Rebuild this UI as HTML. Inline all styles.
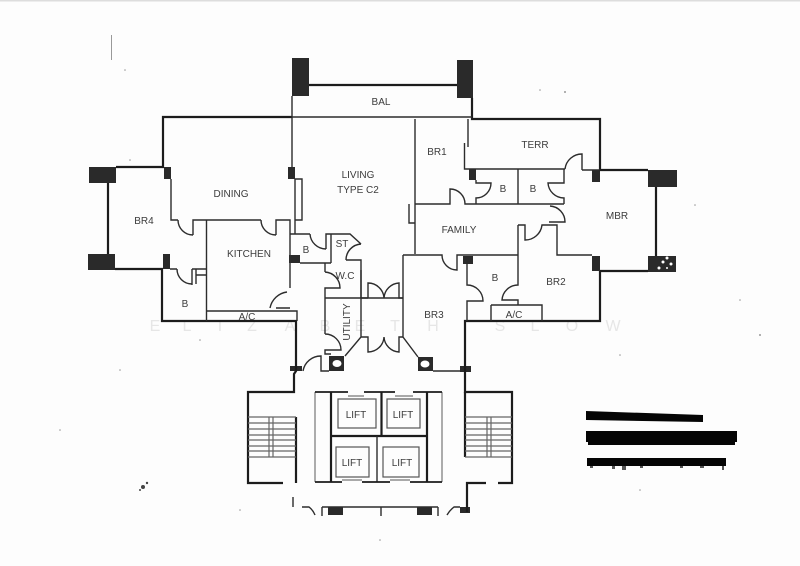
<!DOCTYPE html>
<html><head><meta charset="utf-8"><style>
html,body{margin:0;padding:0;background:#fdfdfd}
svg{display:block}
text{font-family:"Liberation Sans",sans-serif;fill:#3c3c3c;font-size:10px;text-anchor:middle}
.w text{fill:#e6e6e6;font-size:16px}
.t{stroke:#1c1c1c;stroke-width:2.2;fill:none}
.n{stroke:#2c2c2c;stroke-width:1.4;fill:none}
.st{stroke:#666;stroke-width:1.2;fill:none}
.g{stroke:#777;stroke-width:1.2;fill:none}
.p{fill:#2a2a2a}
.s{fill:#999}
</style></head><body>
<svg width="800" height="566" viewBox="0 0 800 566" xmlns="http://www.w3.org/2000/svg">
<rect width="800" height="566" fill="#fdfdfd"/>
<rect width="800" height="1.5" fill="#ddd"/>
<g class="w">
<text x="155" y="331">E</text><text x="187" y="331">L</text><text x="220" y="331">I</text><text x="252" y="331">Z</text><text x="290" y="331">A</text><text x="325" y="331">B</text><text x="360" y="331">E</text><text x="395" y="331">T</text><text x="433" y="331">H</text><text x="500" y="331">S</text><text x="535" y="331">L</text><text x="572" y="331">O</text><text x="613" y="331">W</text>
</g>
<!-- pillars -->
<g class="p">
<rect x="292" y="58" width="17" height="38"/><rect x="457" y="60" width="16" height="38"/>
<rect x="89" y="167" width="27" height="16"/><rect x="88" y="254" width="27" height="16"/>
<rect x="164" y="167" width="7" height="12"/><rect x="163" y="254" width="7" height="15"/>
<rect x="288" y="167" width="7" height="12"/><rect x="289" y="255" width="11" height="8"/>
<rect x="648" y="170" width="29" height="17"/><rect x="648" y="256" width="28" height="16"/>
<rect x="592" y="170" width="8" height="12"/><rect x="592" y="256" width="8" height="15"/>
<rect x="469" y="169" width="7" height="11"/><rect x="463" y="256" width="10" height="8"/>
<rect x="329" y="356" width="15" height="15"/><rect x="418" y="357" width="15" height="14"/>
<rect x="290" y="366" width="12" height="5"/><rect x="460" y="366" width="11" height="6"/>
<rect x="328" y="507" width="15" height="8"/><rect x="417" y="507" width="15" height="8"/><rect x="460" y="507" width="10" height="6"/>
</g>
<ellipse cx="337" cy="363.500" rx="4.500" ry="3.500" fill="#fff"/><ellipse cx="425" cy="364" rx="4.500" ry="3.500" fill="#fff"/>
<g fill="#fff"><circle cx="663" cy="262" r="1.500"/><circle cx="667" cy="258" r="1.500"/><circle cx="671" cy="264" r="1.500"/><circle cx="659" cy="268" r="1.500"/><circle cx="667" cy="268" r="1"/></g>
<!-- thick walls -->
<path class="t" d="M309 85H457M163 167V117H292M116 167H164M108 183V254M115 269H163M162 269V321H296V371L294 374V392H248V483H283M296 417V483"/>
<path class="t" d="M472 98V119H600V170H648M656 187V256M600 271H648M600 271V321H465V392H512V483H498M486 483H467V512"/>
<path class="t" d="M465 392V457"/>
<path class="n" d="M292 96V167M292 117H472M295 179V234M295 179H302V220H295"/>
<!-- dining / kitchen -->
<path class="n" d="M171 179V220H178M193 235V220H261M276 235V220H290V288M178 220A15 15 0 0 0 193 235M261 220A15 15 0 0 0 276 235"/>
<path class="n" d="M206.500 220V321M206.500 311H297V321M287 292A20 20 0 0 0 270 308M276 308H290"/>
<path class="n" d="M170 269H177M192 269V285M177 269A15 15 0 0 0 192 284M196 269V284M192 269H206M196 275H206"/>
<!-- B / ST / WC / Utility -->
<path class="n" d="M290 234H310M326 249V234H350L361 244M310 234A16 16 0 0 0 326 249M361 244A16 16 0 0 0 346 260M346 260H361V298M331 234V263M300 263H331"/>
<path class="n" d="M325 263V272M325 272A16 16 0 0 1 340 288H325V334M325 298H403M325 334A16 16 0 0 1 341 350H325V354H331"/>
<path class="n" d="M361 270V337L345 356M361 298H368M368 298V283A16 16 0 0 1 384 298A16 16 0 0 1 399 283V298H403M361 337H368V352A16 16 0 0 0 384 337A16 16 0 0 0 399 352V337H403"/>
<path class="n" d="M403 255V337L418 357M433 371H460M303 371A18 18 0 0 1 321 356V371H329"/>
<!-- right rooms -->
<path class="n" d="M415 119V254M468 119V147M464.500 143V169H565M582 170H600M565 169A17 17 0 0 1 582 154V170"/>
<path class="n" d="M476 180V183H491A15 15 0 0 1 476 198V204M518 169V204M564 169V183H548A16 16 0 0 0 564 198V204M415 204H450V189A15 15 0 0 1 465 204H564"/>
<path class="n" d="M409 204V223H415M550 206A16 16 0 0 1 565 222H549"/>
<path class="n" d="M518 225H525V240A17 17 0 0 0 542 225H557V255H592"/>
<path class="n" d="M518 225V285A16 16 0 0 0 502 300H518V305M491 305H542V321M491 305V321"/>
<path class="n" d="M403 255H442A15 15 0 0 0 457 270V255H518M467 264V285A16 16 0 0 1 483 301H467V321"/>
<!-- stairs -->
<path class="st" d="M248 417H296M248 423H296M248 429H296M248 435H296M248 440H296M248 446H296M248 451H296M248 457H296M269 417V457M273 417V457"/>
<path class="st" d="M465 417H512M465 423H512M465 429H512M465 435H512M465 440H512M465 446H512M465 451H512M465 457H512M487 417V457M491 417V457"/>
<!-- lift core -->
<path class="t" d="M331 392V482M427 392V482M331 436H427M381.500 392V436"/>
<path class="n" d="M377 436V482"/>
<path class="g" d="M315 392V482M442 392V482"/>
<path class="t" style="stroke-width:1.800" d="M315 392H348M364 392H395M413 392H442M315 482H342M362 482H390M410 482H442"/>
<path class="g" d="M348 396H364M395 396H413M342 480H362M390 480H410"/>
<g style="stroke:#555;stroke-width:1.200;fill:none">
<rect x="338" y="399" width="38" height="29"/><rect x="387" y="399" width="33" height="29"/>
<rect x="336" y="447" width="33" height="30"/><rect x="383" y="447" width="36" height="30"/>
</g>
<!-- bottom -->
<path class="n" d="M322 507H438M322 507V516M438 507V516M381 507V516M293 497V507M302 507H309Q313 510 315 515M447 515Q450 510 454 507H460"/>
<!-- labels -->
<text x="381" y="105">BAL</text>
<text x="358" y="178">LIVING</text><text x="358" y="193">TYPE C2</text>
<text x="231" y="197">DINING</text><text x="144" y="224">BR4</text><text x="249" y="257">KITCHEN</text>
<text x="306" y="253">B</text><text x="342" y="247">ST</text><text x="345" y="279">W.C</text><text x="185" y="307">B</text><text x="247" y="320">A/C</text>
<text transform="translate(350 322) rotate(-90)">UTILITY</text>
<text x="437" y="155">BR1</text><text x="535" y="148">TERR</text><text x="503" y="192">B</text><text x="533" y="192">B</text>
<text x="459" y="233">FAMILY</text><text x="617" y="219">MBR</text><text x="556" y="285">BR2</text><text x="434" y="318">BR3</text><text x="495" y="281">B</text><text x="514" y="318">A/C</text>
<text x="356" y="418">LIFT</text><text x="403" y="418">LIFT</text><text x="352" y="466">LIFT</text><text x="402" y="466">LIFT</text>
<!-- redactions -->
<polygon points="586,411 703,415 703,422 586,420" fill="#050505"/>
<rect x="586" y="431" width="151" height="11" fill="#050505"/><rect x="588" y="441" width="147" height="4" fill="#050505"/>
<rect x="587" y="458" width="139" height="8" fill="#050505"/>
<g fill="#555"><rect x="590" y="466" width="3" height="2"/><rect x="612" y="466" width="3" height="3"/><rect x="622" y="466" width="4" height="4"/><rect x="640" y="466" width="3" height="2"/><rect x="680" y="466" width="3" height="2"/><rect x="700" y="466" width="4" height="2"/><rect x="722" y="466" width="2" height="4"/></g>
<!-- speckles -->
<g class="s">
<rect x="111" y="35" width="1" height="25"/>
<circle cx="143" cy="487" r="2" fill="#444"/><circle cx="147" cy="483" r="1.200" fill="#444"/><circle cx="140" cy="490" r="1" fill="#444"/>
<circle cx="125" cy="70" r="0.800"/><circle cx="540" cy="90" r="0.800"/><circle cx="565" cy="92" r="1"/><circle cx="760" cy="335" r="1"/><circle cx="740" cy="300" r="0.800"/>
<circle cx="695" cy="205" r="0.800"/><circle cx="130" cy="160" r="0.800"/><circle cx="200" cy="340" r="0.800"/><circle cx="120" cy="370" r="0.800"/><circle cx="620" cy="355" r="0.800"/><circle cx="380" cy="540" r="0.800"/><circle cx="60" cy="430" r="0.800"/>
<circle cx="640" cy="490" r="0.800"/><circle cx="240" cy="510" r="0.800"/>
</g>
</svg>
</body></html>
